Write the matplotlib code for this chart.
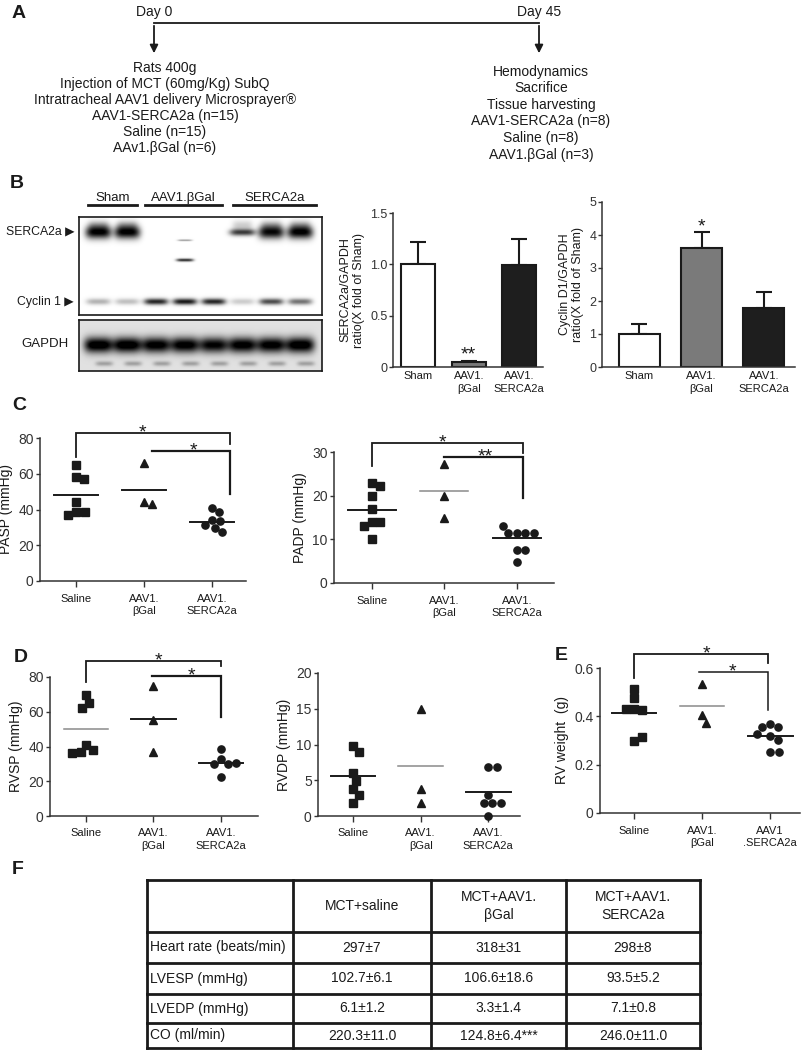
import numpy as np
import matplotlib
matplotlib.use('Agg')
import matplotlib.pyplot as plt

# ---------------- data ----------------
timeline_left = ['Rats 400g', 'Injection of MCT (60mg/Kg) SubQ',
                 'Intratracheal AAV1 delivery Microsprayer®',
                 'AAV1-SERCA2a (n=15)', 'Saline (n=15)', 'AAv1.βGal (n=6)']
timeline_right = ['Hemodynamics', 'Sacrifice', 'Tissue harvesting',
                  'AAV1-SERCA2a (n=8)', 'Saline (n=8)', 'AAV1.βGal (n=3)']

blot_groups = ['Sham', 'AAV1.βGal', 'SERCA2a']
serca_band = [1.0, 1.0, 0.0, 0.0, 0.0, 0.75, 0.95, 1.0]
cyclin_band = [0.3, 0.25, 0.85, 0.9, 0.85, 0.2, 0.7, 0.55]
gapdh_band = [1.0, 1.0, 0.95, 0.95, 0.9, 0.95, 0.95, 1.0]

bar_groups = ['Sham', 'AAV1.\nβGal', 'AAV1.\nSERCA2a']
serca_ratio = [1.0, 0.05, 0.99]
serca_err = [0.22, 0.01, 0.26]
cyclin_ratio = [1.0, 3.6, 1.8]
cyclin_err = [0.3, 0.5, 0.48]

groups = ['Saline', 'AAV1.\nβGal', 'AAV1.\nSERCA2a']
groups_E = ['Saline', 'AAV1.\nβGal', 'AAV1\n.SERCA2a']

pasp_saline = [65, 58, 57, 44, 38.5, 38.5, 37]
pasp_bgal = [66, 44, 43]
pasp_serca = [41, 38.5, 34, 33.5, 31.5, 29.5, 27.5]
pasp_means = [48.3, 51, 33]

padp_saline = [23, 22.3, 20, 17, 14, 14, 13, 10]
padp_bgal = [27.2, 20, 15]
padp_serca = [11.5, 11.5, 11.5, 11.5, 13, 7.6, 7.6, 4.8]
padp_means = [16.8, 21, 10.2]

rvsp_saline = [69.5, 65, 62, 41, 38, 37, 36.4]
rvsp_bgal = [75, 55, 37]
rvsp_serca = [38.5, 32.6, 29.7, 29.7, 30.6, 22.6]
rvsp_means = [50, 56, 30.6]

rvdp_saline = [9.8, 8.9, 6.0, 4.9, 3.8, 2.9, 1.85]
rvdp_bgal = [14.9, 3.75, 1.85]
rvdp_serca = [6.9, 6.9, 2.9, 1.85, 1.85, 1.85, 0]
rvdp_means = [5.6, 7.0, 3.3]

rvw_saline = [0.512, 0.475, 0.43, 0.426, 0.43, 0.30, 0.316]
rvw_bgal = [0.533, 0.405, 0.374]
rvw_serca = [0.367, 0.357, 0.357, 0.319, 0.302, 0.327, 0.254, 0.254]
rvw_means = [0.413, 0.443, 0.319]

table_cols = ['MCT+saline', 'MCT+AAV1.\nβGal', 'MCT+AAV1.\nSERCA2a']
table_rows = ['Heart rate (beats/min)', 'LVESP (mmHg)', 'LVEDP (mmHg)', 'CO (ml/min)']
table_cells = [['297±7', '318±31', '298±8'],
               ['102.7±6.1', '106.6±18.6', '93.5±5.2'],
               ['6.1±1.2', '3.3±1.4', '7.1±0.8'],
               ['220.3±11.0', '124.8±6.4***', '246.0±11.0']]

# ---------------- setup ----------------
W, H = 806, 1050
plt.rcParams['font.family'] = ['Liberation Sans', 'DejaVu Sans']
NARROW = ['Liberation Sans Narrow', 'Liberation Sans', 'DejaVu Sans']
INK = '#1a1a1a'
AXC = '#333333'

fig = plt.figure(figsize=(W / 100, H / 100), dpi=100)
fig.patch.set_facecolor('white')

ov = fig.add_axes([0, 0, 1, 1])
ov.set_xlim(0, W)
ov.set_ylim(H, 0)
ov.axis('off')


def add_ax(l, t, r, b):
    return fig.add_axes([l / W, 1 - b / H, (r - l) / W, (b - t) / H])


def letter(x, y, s):
    ov.text(x, y, s, fontsize=14, fontweight='bold', ha='left', va='center', color=INK)


# ---------------- Panel A ----------------
letter(12, 14, 'A')
ov.text(154, 12, 'Day 0', ha='center', va='center', fontsize=10, family=NARROW, color=INK)
ov.text(539, 12, 'Day 45', ha='center', va='center', fontsize=10, family=NARROW, color=INK)
ov.plot([154, 539], [23, 23], color=INK, lw=1.3)
for xa in (154, 539):
    ov.annotate('', xy=(xa, 56), xytext=(xa, 23),
                arrowprops=dict(arrowstyle='-|>', color=INK, lw=1.3, mutation_scale=12))
for i, s in enumerate(timeline_left):
    ov.text(165, 68 + i * 16, s, ha='center', va='center', fontsize=10, family=NARROW, color=INK)
for i, s in enumerate(timeline_right):
    ov.text(541, 72 + i * 16.5, s, ha='center', va='center', fontsize=10, family=NARROW, color=INK)

# ---------------- Panel B: blot ----------------
letter(10, 183, 'B')
for name, (x1, x2) in zip(blot_groups, [(88, 137), (145, 222), (233, 316)]):
    ov.text((x1 + x2) / 2, 198, name, ha='center', va='center', fontsize=9.5, color=INK)
    ov.plot([x1, x2], [205, 205], color=INK, lw=2)
ov.text(74, 232, 'SERCA2a ▶', ha='right', va='center', fontsize=8.8, color=INK)
ov.text(74, 302, 'Cyclin 1 ▶', ha='right', va='center', fontsize=8.8, color=INK)
ov.text(45, 344, 'GAPDH', ha='center', va='center', fontsize=9.5, color=INK)


def band(X, Y, xc, yc, w, h, a):
    return a * np.exp(-((X - xc) / w) ** 4 - ((Y - yc) / h) ** 2)


nl = len(serca_band)
lane_x = np.arange(nl)
xl = (-0.66, nl - 1 + 0.74)

ax_blot = add_ax(79, 217, 322, 315)
xs = np.linspace(xl[0], xl[1], 243)
ys = np.linspace(0, 98, 98)
X, Y = np.meshgrid(xs, ys)
dark = np.zeros_like(X)
for i in range(nl):
    th = 6.5 if serca_band[i] > 0.8 else 3.5
    dark += band(X, Y, lane_x[i], 15, 0.45, th, serca_band[i])
    dark += band(X, Y, lane_x[i], 8, 0.35, 5, 0.25 * serca_band[i])
    dark += band(X, Y, lane_x[i], 85, 0.42, 3.2, cyclin_band[i])
dark += band(X, Y, 3, 43, 0.3, 1.6, 0.8)
dark += band(X, Y, 3, 23, 0.25, 1.0, 0.35)
img = 1 - np.clip(dark, 0, 1)
ax_blot.imshow(img, cmap='gray', vmin=0, vmax=1, aspect='auto',
               extent=(xl[0], xl[1], 98, 0), interpolation='bilinear')
ax_blot.set_xticks([]); ax_blot.set_yticks([])
for sp in ax_blot.spines.values():
    sp.set_linewidth(1.2); sp.set_color(INK)

ax_g = add_ax(79, 320, 322, 371)
ys2 = np.linspace(0, 51, 51)
X2, Y2 = np.meshgrid(xs, ys2)
dark2 = np.full_like(X2, 0.12)
for i in range(nl):
    dark2 += band(X2, Y2, lane_x[i], 25, 0.5, 8, gapdh_band[i])
    dark2 += band(X2, Y2, lane_x[i] + 0.2, 44, 0.3, 2.5, 0.25)
img2 = 1 - np.clip(dark2, 0, 1)
ax_g.imshow(img2, cmap='gray', vmin=0, vmax=1, aspect='auto',
            extent=(xl[0], xl[1], 51, 0), interpolation='bilinear')
ax_g.set_xticks([]); ax_g.set_yticks([])
for sp in ax_g.spines.values():
    sp.set_linewidth(1.2); sp.set_color(INK)

# ---------------- Panel B: bars ----------------
bar_colors = ['white', '#7a7a7a', '#1e1e1e']


def style_axes(ax):
    for s in ('top', 'right'):
        ax.spines[s].set_visible(False)
    for s in ('left', 'bottom'):
        ax.spines[s].set_linewidth(1.1)
        ax.spines[s].set_color(AXC)
    ax.patch.set_alpha(0)


def bar_panel(ax, vals, errs, ylim, yticks, yticklabels, ylabel, xlim, width, star, star_y):
    style_axes(ax)
    x = np.arange(len(vals))
    ax.bar(x, vals, width=width, color=bar_colors, edgecolor=INK, linewidth=1.5, zorder=2)
    ax.errorbar(x, vals, yerr=[np.zeros(len(vals)), errs], fmt='none', ecolor=INK,
                elinewidth=1.5, capsize=6, capthick=1.5, zorder=1)
    ax.set_ylim(*ylim)
    ax.set_xlim(*xlim)
    ax.set_yticks(yticks)
    ax.set_yticklabels(yticklabels, fontsize=9, color=AXC)
    ax.set_xticks(x)
    ax.set_xticklabels(bar_groups, fontsize=8, color=INK, linespacing=1.3)
    ax.tick_params(axis='x', length=0, pad=3)
    ax.tick_params(axis='y', length=3, width=1, color=AXC, pad=1)
    ax.set_ylabel(ylabel, fontsize=9, color=INK, linespacing=1.1, labelpad=4)
    ax.text(1, star_y, star, ha='center', va='center', fontsize=14, color=INK)


ax_b1 = add_ax(393, 213, 543, 367)
bar_panel(ax_b1, serca_ratio, serca_err, (0, 1.5), [0, 0.5, 1.0, 1.5],
          ['0', '0.5', '1.0', '1.5'], 'SERCA2a/GAPDH\nratio(X fold of Sham)',
          (-0.5, 2.47), 0.68, '**', 0.12)
ax_b2 = add_ax(602, 202, 795, 367)
bar_panel(ax_b2, cyclin_ratio, cyclin_err, (0, 5), [0, 1, 2, 3, 4, 5],
          ['0', '1', '2', '3', '4', '5'], 'Cyclin D1/GAPDH\nratio(X fold of Sham)',
          (-0.6, 2.5), 0.66, '*', 4.25)


# ---------------- dot plots ----------------
def swarm_x(ax, xc, vals, d_px):
    tr = ax.transData
    ppu = tr.transform((1, 0))[0] - tr.transform((0, 0))[0]
    placed = []
    out = []
    for v in vals:
        y = tr.transform((xc, v))[1]
        cands = [0.0]
        for px, py in placed:
            dy = abs(py - y)
            if dy < d_px:
                w = np.sqrt(d_px ** 2 - dy ** 2)
                cands += [px + w, px - w]
        cands.sort(key=abs)
        chosen = 0.0
        for c in cands:
            ok = True
            for px, py in placed:
                dy = abs(py - y)
                if dy < d_px and abs(px - c) < np.sqrt(d_px ** 2 - dy ** 2) - 1e-6:
                    ok = False
                    break
            if ok:
                chosen = c
                break
        placed.append((chosen, y))
        out.append(xc + chosen / ppu)
    return out


markers = ['s', '^', 'o']
msizes = [5.3, 5.2, 5.2]


def dot_panel(ax, series, means, mean_colors, ylim, yticks, ylabel, xlim, xlabels,
              labelpad=4, yfmt=None):
    style_axes(ax)
    ax.set_ylim(*ylim)
    ax.set_xlim(*xlim)
    for i, vals in enumerate(series):
        xs_ = swarm_x(ax, i, vals, 8.5)
        ax.plot(xs_, vals, linestyle='none', marker=markers[i], markersize=msizes[i],
                color=INK, clip_on=False, zorder=3)
        ax.plot([i - 0.33, i + 0.33], [means[i], means[i]], color=mean_colors[i],
                lw=1.4 if mean_colors[i] == INK else 1.1, zorder=2)
    ax.set_yticks(yticks)
    ax.set_yticklabels([yfmt(t) if yfmt else str(t) for t in yticks], fontsize=10, color=AXC)
    ax.set_xticks(range(len(series)))
    ax.set_xticklabels(xlabels, fontsize=8, color=INK, linespacing=1.35)
    ax.tick_params(axis='x', length=4, width=1, color=AXC, pad=5)
    ax.tick_params(axis='y', length=3, width=1, color=AXC, pad=1.5)
    ax.set_ylabel(ylabel, fontsize=10, color=INK, labelpad=labelpad)


def bracket(ax, x1, x2, y, d1, d2, lw=1.3):
    ax.plot([x1, x1, x2, x2], [d1, y, y, d2], color=INK, lw=lw, clip_on=False,
            solid_joinstyle='miter')


def star(ax, x, y, s):
    ax.annotate(s, xy=(x, y), xytext=(0, -3), textcoords='offset points',
                ha='center', va='baseline', fontsize=14, color=INK, annotation_clip=False)


GRAY = '#8a8a8a'

# Panel C
letter(12, 405, 'C')
ax_c1 = add_ax(40, 438, 246, 581)
dot_panel(ax_c1, [pasp_saline, pasp_bgal, pasp_serca], pasp_means, [INK, INK, INK],
          (0, 80), [0, 20, 40, 60, 80], 'PASP (mmHg)', (-0.53, 2.5), groups)
bracket(ax_c1, 0, 2.26, 82.7, 69.3, 76.5)
bracket(ax_c1, 1.12, 2.26, 72.6, 72.6, 48.6, lw=1.6)
star(ax_c1, 0.97, 82.7, '*')
star(ax_c1, 1.72, 72.6, '*')

ax_c2 = add_ax(334, 452, 554, 583)
dot_panel(ax_c2, [padp_saline, padp_bgal, padp_serca], padp_means, [INK, GRAY, INK],
          (0, 30), [0, 10, 20, 30], 'PADP (mmHg)', (-0.52, 2.51), groups)
bracket(ax_c2, 0, 2.08, 32, 26.8, 29.7)
bracket(ax_c2, 1.0, 2.08, 28.8, 28.8, 19.5, lw=1.6)
star(ax_c2, 0.97, 32, '*')
star(ax_c2, 1.56, 28.8, '**')

# Panel D
letter(14, 657, 'D')
ax_d1 = add_ax(50, 677, 258, 816)
dot_panel(ax_d1, [rvsp_saline, rvsp_bgal, rvsp_serca], rvsp_means, [GRAY, INK, INK],
          (0, 80), [0, 20, 40, 60, 80], 'RVSP (mmHg)', (-0.53, 2.55), groups)
bracket(ax_d1, 0, 2.0, 89, 77, 86.4)
bracket(ax_d1, 0.98, 2.0, 80.5, 80.5, 57, lw=1.6)
star(ax_d1, 1.07, 89, '*')
star(ax_d1, 1.57, 80.5, '*')

ax_d2 = add_ax(318, 673, 520, 816)
dot_panel(ax_d2, [rvdp_saline, rvdp_bgal, rvdp_serca], rvdp_means, [INK, GRAY, INK],
          (0, 20), [0, 5, 10, 15, 20], 'RVDP (mmHg)', (-0.52, 2.47), groups)

# Panel E
letter(555, 655, 'E')
ax_e = add_ax(600, 668, 800, 813)
dot_panel(ax_e, [rvw_saline, rvw_bgal, rvw_serca], rvw_means, [INK, GRAY, INK],
          (0, 0.6), [0, 0.2, 0.4, 0.6], 'RV weight  (g)', (-0.5, 2.44), groups_E,
          yfmt=lambda t: '0' if t == 0 else f'{t:.1f}')
bracket(ax_e, 0, 1.97, 0.657, 0.558, 0.62)
bracket(ax_e, 0.96, 1.97, 0.583, 0.583, 0.426, lw=1.1)
star(ax_e, 1.07, 0.657, '*')
star(ax_e, 1.44, 0.583, '*')

# ---------------- Panel F: table ----------------
letter(12, 870, 'F')
col_edges = [147, 293, 431, 566, 700]
row_edges = [880, 932, 963, 994, 1023, 1048]
for x in col_edges:
    ov.plot([x, x], [row_edges[0], row_edges[-1]], color=INK, lw=2)
for y in row_edges:
    ov.plot([col_edges[0], col_edges[-1]], [y, y], color=INK, lw=2)
for j, c in enumerate(table_cols):
    ov.text((col_edges[j + 1] + col_edges[j + 2]) / 2, (row_edges[0] + row_edges[1]) / 2, c,
            ha='center', va='center', fontsize=10, family=NARROW, color=INK, linespacing=1.4)
for i, r in enumerate(table_rows):
    yc = (row_edges[i + 1] + row_edges[i + 2]) / 2
    ov.text(col_edges[0] + 3, yc, r, ha='left', va='center', fontsize=10, family=NARROW, color=INK)
    for j in range(3):
        ov.text((col_edges[j + 1] + col_edges[j + 2]) / 2, yc, table_cells[i][j],
                ha='center', va='center', fontsize=10, family=NARROW, color=INK)

fig.savefig('out.png', dpi=100, facecolor='white')
